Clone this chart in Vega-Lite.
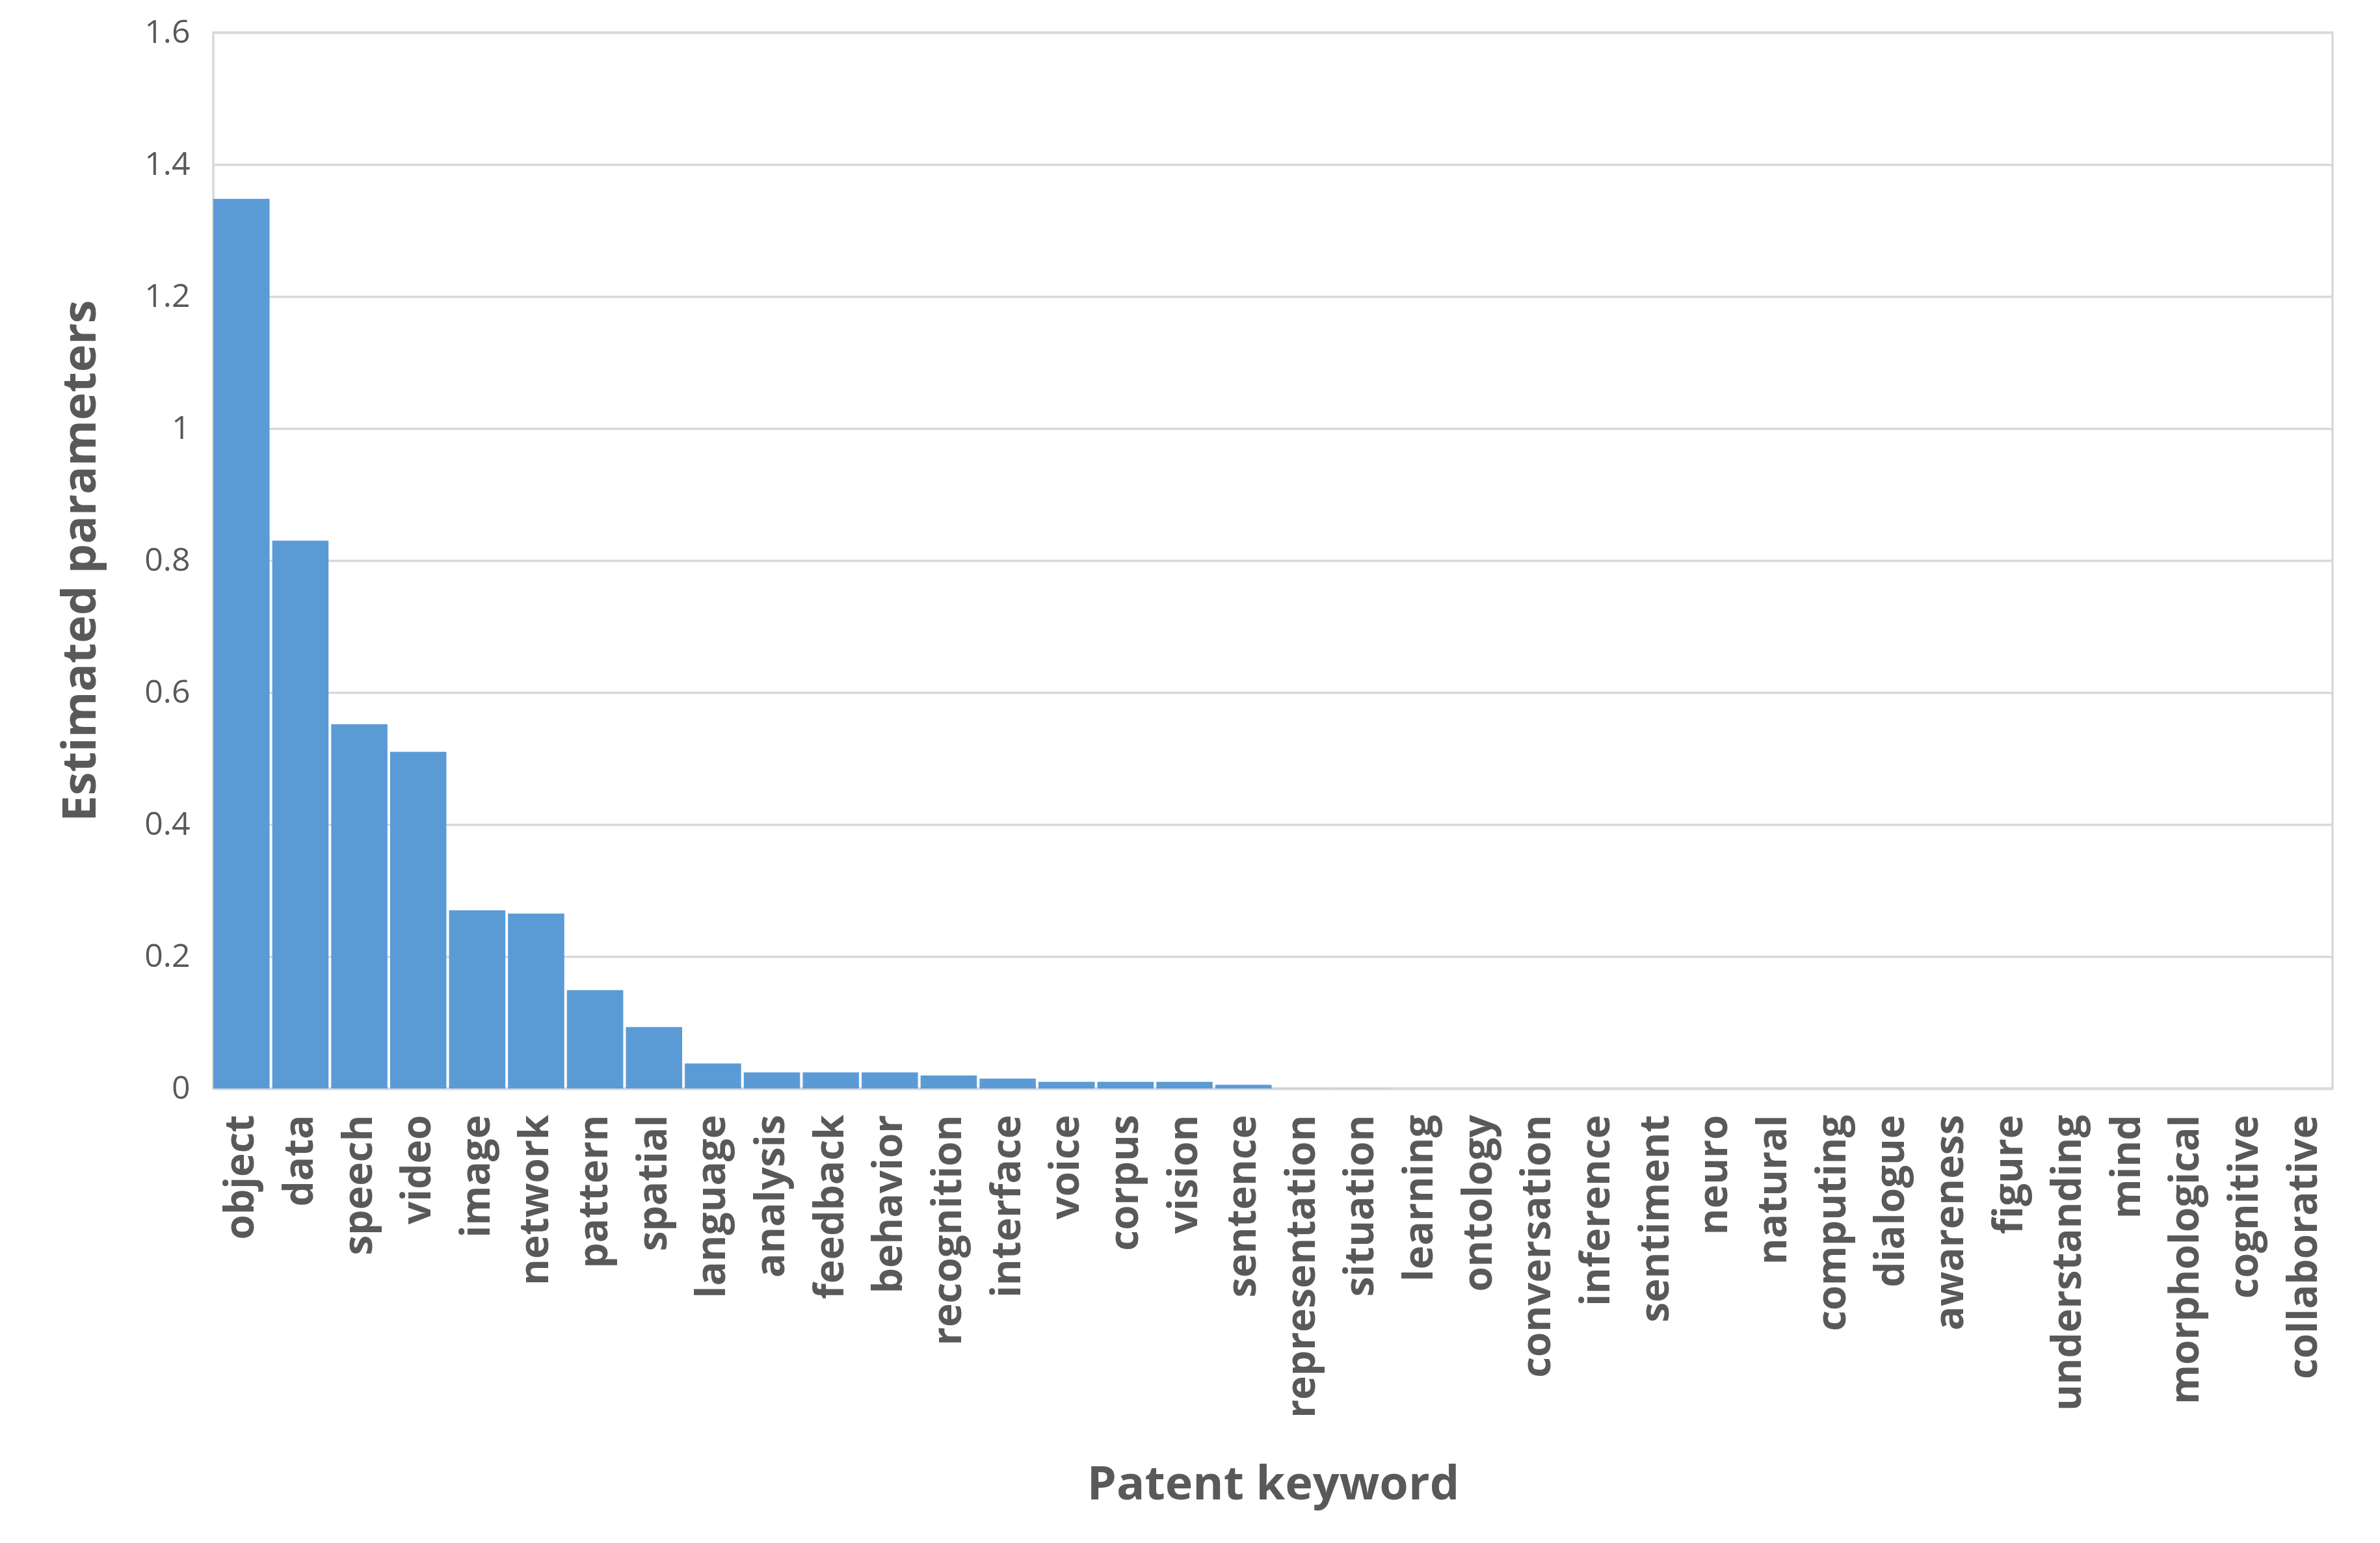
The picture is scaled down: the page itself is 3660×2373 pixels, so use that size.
{
  "$schema": "https://vega.github.io/schema/vega-lite/v6.json",
  "autosize": {"type": "none"},
  "width": 3259,
  "height": 1624,
  "padding": {"left": 328, "top": 50, "right": 73, "bottom": 699},
  "background": "white",
  "config": {
    "view": {"stroke": "#d9d9d9", "strokeWidth": 3.5},
    "font": "Open Sans"
  },
  "data": {
    "values": [
      {"keyword": "object", "value": 1.348},
      {"keyword": "data", "value": 0.83},
      {"keyword": "speech", "value": 0.552},
      {"keyword": "video", "value": 0.51},
      {"keyword": "image", "value": 0.27},
      {"keyword": "network", "value": 0.265},
      {"keyword": "pattern", "value": 0.149},
      {"keyword": "spatial", "value": 0.093},
      {"keyword": "language", "value": 0.038},
      {"keyword": "analysis", "value": 0.0245},
      {"keyword": "feedback", "value": 0.0245},
      {"keyword": "behavior", "value": 0.0245},
      {"keyword": "recognition", "value": 0.0198},
      {"keyword": "interface", "value": 0.015},
      {"keyword": "voice", "value": 0.0102},
      {"keyword": "corpus", "value": 0.0102},
      {"keyword": "vision", "value": 0.0102},
      {"keyword": "sentence", "value": 0.0057},
      {"keyword": "representation", "value": 0.0003},
      {"keyword": "situation", "value": 0.0002},
      {"keyword": "learning", "value": 0.0001},
      {"keyword": "ontology", "value": 0.0001},
      {"keyword": "conversation", "value": 0.0001},
      {"keyword": "inference", "value": 0.0001},
      {"keyword": "sentiment", "value": 0},
      {"keyword": "neuro", "value": 0},
      {"keyword": "natural", "value": 0},
      {"keyword": "computing", "value": 0},
      {"keyword": "dialogue", "value": 0},
      {"keyword": "awareness", "value": 0},
      {"keyword": "figure", "value": 0},
      {"keyword": "understanding", "value": 0},
      {"keyword": "mind", "value": 0},
      {"keyword": "morphological", "value": 0},
      {"keyword": "cognitive", "value": 0},
      {"keyword": "collaborative", "value": 0}
    ]
  },
  "mark": {"type": "bar", "color": "#5b9bd5"},
  "encoding": {
    "x": {
      "field": "keyword",
      "type": "nominal",
      "sort": null,
      "scale": {"paddingInner": 0.045, "paddingOuter": 0},
      "axis": {
        "title": "Patent keyword",
        "titleFont": "Open Sans",
        "titleFontSize": 72,
        "titleFontWeight": "bold",
        "titleColor": "#595959",
        "titleY": 609,
        "titleBaseline": "middle",
        "labelAngle": -90,
        "labelAlign": "right",
        "labelBaseline": "middle",
        "labelFont": "Open Sans",
        "labelFontSize": 62,
        "labelFontWeight": "bold",
        "labelColor": "#595959",
        "labelPadding": 40,
        "labelLimit": 800,
        "labelOverlap": false,
        "ticks": false,
        "domainColor": "#d9d9d9",
        "domainWidth": 4
      }
    },
    "y": {
      "field": "value",
      "type": "quantitative",
      "scale": {"domain": [0, 1.6], "nice": false},
      "axis": {
        "title": "Estimated parameters",
        "titleFont": "Open Sans",
        "titleFontSize": 72,
        "titleFontWeight": "bold",
        "titleColor": "#595959",
        "titleX": -204,
        "titleY": 812,
        "titleAngle": -90,
        "titleAlign": "center",
        "titleBaseline": "middle",
        "values": [0, 0.2, 0.4, 0.6, 0.8, 1, 1.2, 1.4, 1.6],
        "format": "~g",
        "labelFont": "Open Sans",
        "labelFontSize": 50,
        "labelColor": "#595959",
        "labelPadding": 36,
        "ticks": false,
        "domain": false,
        "grid": true,
        "gridColor": "#d9d9d9",
        "gridWidth": 3.5
      }
    }
  }
}
